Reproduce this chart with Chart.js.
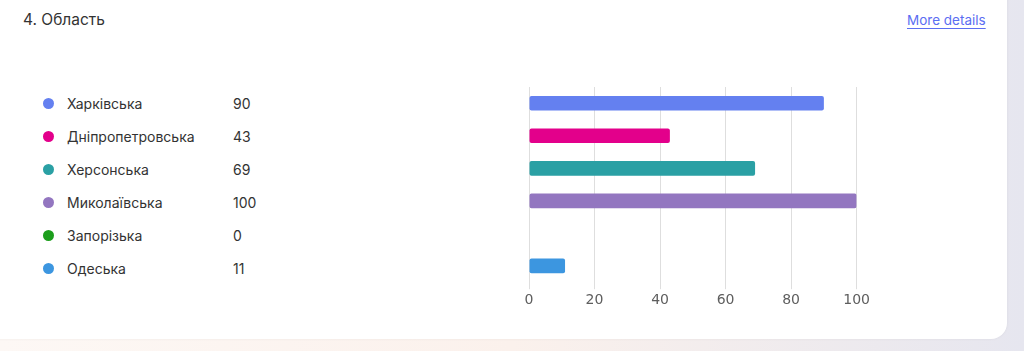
<!DOCTYPE html>
<html>
<head>
<meta charset="utf-8">
<script src="https://cdn.jsdelivr.net/npm/chart.js@4.4.0/dist/chart.umd.min.js"></script>
<style>
    html,body{ margin:0; padding:0; }
    body{
        width:1024px; height:351px; overflow:hidden; position:relative;
        background:linear-gradient(90deg,#fdf8f5 0%,#fbf1ec 50%,#e6e6ef 100%);
        font-family:Inter,"Noto Sans",sans-serif;
    }
    .card{
        position:absolute; left:-20px; top:-20px; width:1027px; height:359px;
        background:#fff; border-radius:16px;
        box-shadow:0 0 3px rgba(0,0,0,.06);
    }
    .title{ position:absolute; left:23px; top:10px; font-size:15.5px; color:#333; }
    .more{
        position:absolute; left:907px; top:12px; font-size:13.5px; color:#5b6ef2;
        text-decoration:underline; text-underline-offset:3px;
    }
    .legend{ position:absolute; left:43px; top:94px; }
    .row{ height:33px; display:flex; align-items:flex-start; font-size:14px; color:#333; line-height:20px; }
    .dot{ width:11px; height:11px; border-radius:50%; margin:4px 13px 0 0; }
    .name{ width:166px; }
    .box{ position:absolute; left:521px; top:80px; width:352px; height:232px; }
</style>
</head>
<body>
<div class="card"></div>
<div class="title">4. Область</div>
<div class="more">More details</div>
<div class="legend" id="legend"></div>
<div class="box"><canvas id="regionChart"></canvas></div>

<script>
/* ===========================
   DATA
=========================== */
const regions = ["Харківська","Дніпропетровська","Херсонська","Миколаївська","Запорізька","Одеська"];
const votes   = [90,43,69,100,0,11];
const colors  = ["#6480f0","#e3008b","#2aa0a4","#9376c0","#1c9e1c","#3c96e0"];
const xTicks  = [0,20,40,60,80,100];

/* ===========================
   LEGEND
=========================== */
const legend = document.getElementById("legend");

regions.forEach((name,i)=>{

    const row = document.createElement("div");
    row.className = "row";
    row.innerHTML =
        '<div class="dot" style="background:'+colors[i]+'"></div>' +
        '<div class="name">'+name+'</div>' +
        '<div>'+votes[i]+'</div>';
    legend.appendChild(row);

});

/* ===========================
   BAR CHART
=========================== */
new Chart(document.getElementById("regionChart"),{

    type:"bar",

    data:{
        labels:regions,
        datasets:[{
            data:votes,
            backgroundColor:colors,
            borderColor:colors,
            borderWidth:0,
            borderRadius:2,
            borderSkipped:false,
            categoryPercentage:0.9,
            barPercentage:0.5
        }]
    },

    options:{
        indexAxis:"y",
        responsive:true,
        maintainAspectRatio:false,
        animation:false,
        layout:{ padding:{ top:7, left:8, right:2, bottom:0 } },
        plugins:{
            legend:{ display:false },
            tooltip:{ enabled:false }
        },
        scales:{
            x:{
                min:0,
                max:100,
                afterBuildTicks:(axis)=>{ axis.ticks = xTicks.map(v=>({value:v})); },
                border:{ display:false },
                grid:{ color:"#dedede", tickLength:7 },
                ticks:{
                    color:"#5e5e5e",
                    padding:3,
                    font:{ family:"DejaVu Sans", size:14 }
                }
            },
            y:{
                display:false
            }
        }
    }

});
</script>
</body>
</html>
